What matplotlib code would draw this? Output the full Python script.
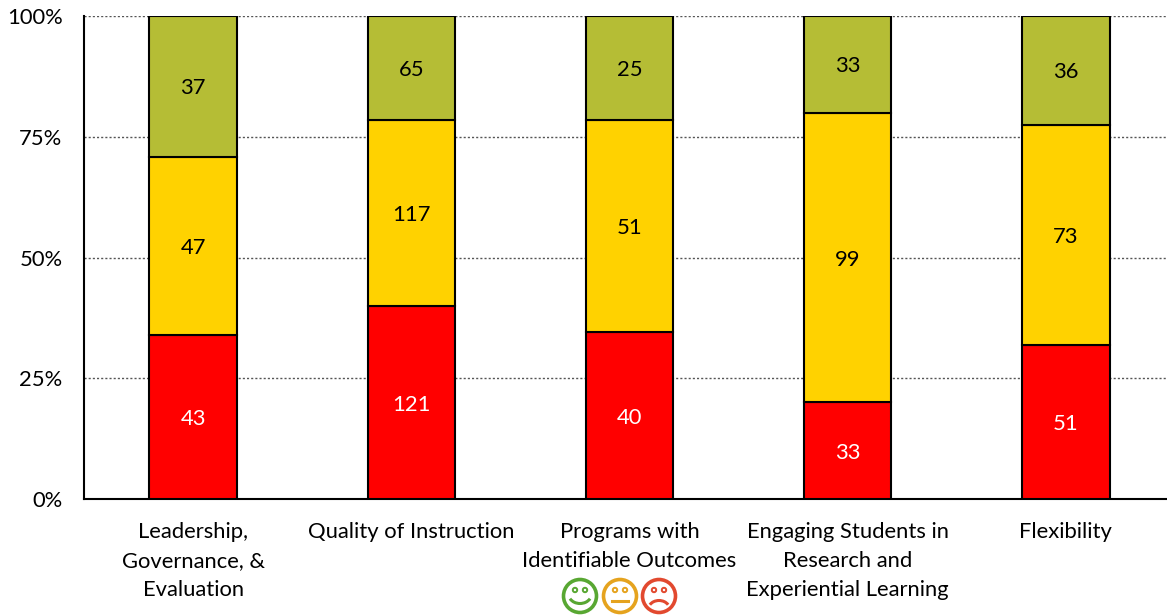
import numpy as np
import matplotlib.pyplot as plt
from matplotlib.patches import Circle, Arc

plt.rcParams['font.family'] = ['Lato', 'DejaVu Sans']

categorias = ['Leadership,\nGovernance, &\nEvaluation', 'Quality of Instruction',
              'Programs with\nIdentifiable Outcomes',
              'Engaging Students in\nResearch and\nExperiential Learning', 'Flexibility']
rojo = [43, 121, 40, 33, 51]
amarillo = [47, 117, 51, 99, 73]
verde = [37, 65, 25, 33, 36]
ticks_y = [0, 25, 50, 75, 100]

series = [(rojo, '#FF0000', 'white'), (amarillo, '#FFD200', 'black'), (verde, '#B5BD35', 'black')]
totales = np.array(rojo) + np.array(amarillo) + np.array(verde)

W, H = 1167, 616
fig = plt.figure(figsize=(W / 100, H / 100), dpi=100)
# el eje sigue mas alla del borde derecho, como en el original
ax = fig.add_axes([84 / W, 1 - 499 / H, 1091 / W, 483 / H])

x = np.arange(len(categorias))
base = np.zeros(len(categorias))
for valores, color, color_texto in series:
    pct = np.array(valores) / totales * 100
    ax.bar(x, pct, 0.4, bottom=base, color=color, edgecolor='black', linewidth=1.5, zorder=3)
    for xi, b, p, v in zip(x, base, pct, valores):
        ax.annotate(str(v), (xi, b + p / 2), xytext=(0, -1.5), textcoords='offset points',
                    ha='center', va='center', fontsize=15.8, color=color_texto, zorder=4)
    base += pct

ax.set_xlim(-0.5, len(categorias) - 0.5)
ax.set_ylim(0, 100)
ax.set_yticks(ticks_y)
ax.set_yticklabels([f'{t}%' for t in ticks_y], fontsize=15.8, color='black')
ax.set_xticks(x)
ax.set_xticklabels(categorias, fontsize=15.8, linespacing=1.56, color='black')
ax.tick_params(axis='y', length=0, pad=15.5)
ax.tick_params(axis='x', length=0, pad=16.5)
ax.grid(axis='y', color='#555555', linestyle=(0, (1.5, 1.5)), linewidth=1, zorder=0)
for lado in ['top', 'right']:
    ax.spines[lado].set_visible(False)
ax.spines['left'].set_linewidth(1.5)
ax.spines['bottom'].set_linewidth(1.5)

# Caritas debajo de la tercera categoria (capa en pixeles)
capa = fig.add_axes([0, 0, 1, 1], facecolor='none')
capa.set_xlim(0, W)
capa.set_ylim(H, 0)
capa.axis('off')
caras = [(580, '#58A732', 'feliz'), (620, '#E5A31E', 'neutra'), (659, '#E2492F', 'triste')]
cy = 596
for cx, color, gesto in caras:
    capa.add_patch(Circle((cx, cy), 16.5, fill=False, edgecolor=color, linewidth=2.6))
    for dx in (-5, 5):
        capa.add_patch(Circle((cx + dx, cy - 6), 2.2, fill=False, edgecolor=color, linewidth=1.4))
    if gesto == 'feliz':
        capa.add_patch(Arc((cx, cy - 2), 23, 19, theta1=25, theta2=155, edgecolor=color, linewidth=2.2))
    elif gesto == 'neutra':
        capa.plot([cx - 8, cx + 8], [cy + 5, cy + 5], color=color, linewidth=2.2)
    else:
        capa.add_patch(Arc((cx, cy + 13), 21, 17, theta1=205, theta2=335, edgecolor=color, linewidth=2.2))

fig.savefig('out.png', dpi=100)
